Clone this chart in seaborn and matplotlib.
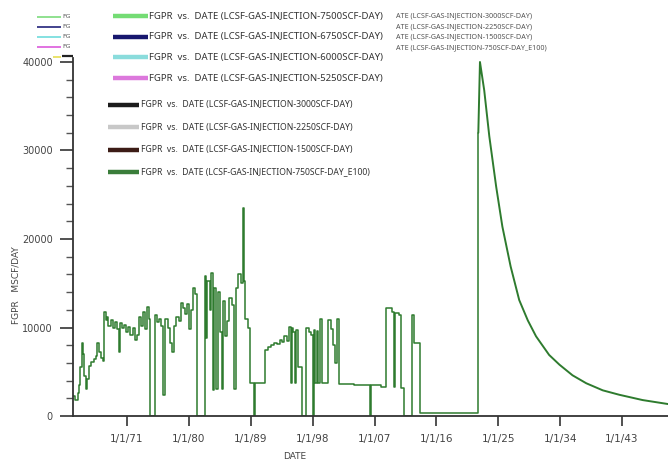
import matplotlib
matplotlib.use("Agg")
import matplotlib.pyplot as plt
from matplotlib.lines import Line2D
from matplotlib.ticker import MultipleLocator, FixedLocator
import seaborn as sns
import pandas as pd

# ---------------- data (decimal years, MSCF/DAY) ----------------
hist_years = [1963.2, 1963.5, 1963.8, 1964.0, 1964.2, 1964.4, 1964.6, 1964.8, 1965.0, 1965.2,
              1965.4, 1965.8, 1966.2, 1966.5, 1966.7, 1966.9, 1967.2, 1967.5, 1967.7, 1967.9,
              1968.1, 1968.3, 1968.6, 1968.9, 1969.2, 1969.5, 1969.8, 1970.0, 1970.3, 1970.6,
              1970.9, 1971.2, 1971.5, 1971.8, 1972.1, 1972.4, 1972.7, 1973.0, 1973.3, 1973.6,
              1973.9, 1974.2, 1974.4, 1975.0, 1975.3, 1975.6, 1976.0, 1976.3, 1976.5, 1976.9,
              1977.2, 1977.5, 1977.8, 1978.1, 1978.5, 1978.8, 1979.1, 1979.4, 1979.7, 1980.0,
              1980.3, 1980.6, 1980.9, 1981.2, 1982.3, 1982.5, 1982.7, 1983.0, 1983.2, 1983.5,
              1983.7, 1984.0, 1984.2, 1984.5, 1984.8, 1985.0, 1985.3, 1985.6, 1985.9, 1986.2,
              1986.5, 1986.8, 1987.2, 1987.6, 1987.8, 1987.95, 1988.2, 1988.6, 1988.9, 1989.4,
              1989.55, 1991.1, 1991.5, 1992.0, 1992.4, 1992.8, 1993.2, 1993.6, 1993.9, 1994.3,
              1994.6, 1994.8, 1994.95, 1995.2, 1995.4, 1995.6, 1995.9, 1996.4, 1997.1, 1997.4,
              1997.7, 1998.0, 1998.15, 1998.4, 1998.6, 1998.8, 1999.1, 1999.3, 2000.3, 2000.7,
              2001.0, 2001.3, 2001.6, 2001.8, 2004.0, 2006.3, 2006.4, 2006.55, 2008.0, 2008.6,
              2009.5, 2009.9, 2010.0, 2010.6, 2010.8, 2011.3, 2012.5, 2012.8, 2013.6, 2022.1]
hist_rates = [2300, 1800, 2600, 3500, 5500, 8300, 7000, 4500, 3000, 4200,
              5700, 6100, 6400, 6800, 8300, 7200, 6500, 6200, 11800, 10800,
              11200, 10200, 10800, 10000, 10600, 9800, 7200, 10500, 9900, 10300,
              9500, 10100, 9200, 10000, 8600, 9200, 11200, 10200, 11800, 9800,
              12300, 11000, 0, 11400, 10600, 11000, 10200, 2400, 11000, 10000,
              8200, 7200, 10200, 11200, 10700, 12800, 12200, 11500, 12600, 9800,
              12000, 14500, 13800, 0, 15800, 8800, 15200, 12000, 16200, 2900,
              14500, 3000, 14000, 9500, 3100, 13000, 9000, 10700, 13300, 12500,
              3000, 14500, 16000, 15000, 23500, 15200, 11000, 10000, 3700, 0,
              3700, 7500, 7800, 8000, 8300, 8100, 8600, 8400, 9000, 8500,
              10100, 3700, 10000, 9500, 3700, 9700, 5500, 0, 10000, 9500,
              9200, 0, 9700, 3700, 9600, 3700, 11000, 3700, 10800, 9800,
              8000, 6000, 11000, 3600, 3500, 3400, 0, 3500, 3300, 12200,
              11800, 3300, 11600, 11400, 3200, 0, 11400, 8300, 300, 32000]

fcst_years = [2022.1, 2022.34, 2022.96, 2023.7, 2024.7, 2025.6, 2026.8, 2028.05, 2029.3,
              2030.5, 2032.4, 2033.9, 2035.8, 2037.8, 2040.2, 2042.6, 2046.0, 2049.7]
fcst_rates = [32000, 40000, 36800, 31600, 25900, 21400, 16900, 13100, 10800,
              9000, 6900, 5800, 4600, 3700, 2900, 2400, 1800, 1350]

x_tick_years = [1971, 1980, 1989, 1998, 2007, 2016, 2025, 2034, 2043]
x_tick_labels = ["1/1/71", "1/1/80", "1/1/89", "1/1/98", "1/1/07", "1/1/16", "1/1/25", "1/1/34", "1/1/43"]
y_ticks = [0, 10000, 20000, 30000, 40000]

legend_a_labels = ["FGPR  vs.  DATE (LCSF-GAS-INJECTION-7500SCF-DAY)",
                   "FGPR  vs.  DATE (LCSF-GAS-INJECTION-6750SCF-DAY)",
                   "FGPR  vs.  DATE (LCSF-GAS-INJECTION-6000SCF-DAY)",
                   "FGPR  vs.  DATE (LCSF-GAS-INJECTION-5250SCF-DAY)"]
legend_a_colors = ["#74dc74", "#17176e", "#8adcdc", "#dc78dc"]
legend_b_labels = ["FGPR  vs.  DATE (LCSF-GAS-INJECTION-3000SCF-DAY)",
                   "FGPR  vs.  DATE (LCSF-GAS-INJECTION-2250SCF-DAY)",
                   "FGPR  vs.  DATE (LCSF-GAS-INJECTION-1500SCF-DAY)",
                   "FGPR  vs.  DATE (LCSF-GAS-INJECTION-750SCF-DAY_E100)"]
legend_b_colors = ["#1c1c1c", "#c8c8c8", "#3c1c16", "#3a7d3a"]
legend_c_labels = ["ATE (LCSF-GAS-INJECTION-3000SCF-DAY)",
                   "ATE (LCSF-GAS-INJECTION-2250SCF-DAY)",
                   "ATE (LCSF-GAS-INJECTION-1500SCF-DAY)",
                   "ATE (LCSF-GAS-INJECTION-750SCF-DAY_E100)"]
small_legend_labels = ["FG", "FG", "FG", "FG"]
small_legend_colors = ["#7ddc7d", "#22227a", "#70dcdc", "#dc5adc"]

line_color = "#2e7b2e"

# ---------------- figure ----------------
sns.set_style("white")
W, H = 668, 461
fig = plt.figure(figsize=(W / 100, H / 100), dpi=100)
narrow = ["Liberation Sans Narrow", "Noto Sans", "Liberation Sans", "DejaVu Sans"]

y0_px, y40_px = 416, 62
ppu = (y0_px - y40_px) / 40000.0
ymax = 40500
top_px = y0_px - ymax * ppu
ax = fig.add_axes([73 / W, 1 - y0_px / H, 1 - 73 / W, (y0_px - top_px) / H])

hist = pd.DataFrame({"DATE": hist_years, "FGPR": hist_rates})
fcst = pd.DataFrame({"DATE": fcst_years, "FGPR": fcst_rates})
sns.lineplot(data=hist, x="DATE", y="FGPR", ax=ax, color=line_color, lw=1.1,
             drawstyle="steps-post", estimator=None, sort=False)
sns.lineplot(data=fcst, x="DATE", y="FGPR", ax=ax, color=line_color, lw=1.4,
             estimator=None, sort=False)

x_left = 1971 - (127 - 73) / 6.875
x_right = 1971 + (668 - 127) / 6.875
ax.set_xlim(x_left, x_right)
ax.set_ylim(0, ymax)

ax.xaxis.set_major_locator(FixedLocator(x_tick_years))
ax.set_xticklabels(x_tick_labels)
ax.set_yticks(y_ticks)
ax.yaxis.set_minor_locator(MultipleLocator(2000))
ax.tick_params(axis="x", which="major", direction="out", length=7, width=1.2,
               color="#333333", labelsize=7.5, labelcolor="#444444", pad=6, bottom=True)
ax.tick_params(axis="y", which="major", direction="out", length=9.5, width=1.2,
               color="#333333", labelsize=7, labelcolor="#444444", pad=5, left=True)
ax.tick_params(axis="y", which="minor", direction="out", length=5, width=1.0,
               color="#555555", left=True)
for s in ["top", "right"]:
    ax.spines[s].set_visible(False)
for s in ["left", "bottom"]:
    ax.spines[s].set_color("#333333")
    ax.spines[s].set_linewidth(1.3)
ax.set_xlabel("")
ax.set_ylabel("")

fig.text(295 / W, 1 - 456 / H, "DATE", ha="center", va="center", fontsize=6.5, color="#444444")
fig.text(16 / W, 1 - 285 / H, "FGPR   MSCF/DAY", ha="center", va="center", rotation=90,
         fontsize=6.5, color="#444444")

renderer = fig.canvas.get_renderer()


def fit_text(x_px, y_px, s, width_px, color="#333333", stretch="extra-condensed"):
    t = fig.text(x_px / W, 1 - y_px / H, s, ha="left", va="center", fontsize=10,
                 color=color, family=narrow, fontstretch=stretch)
    w = t.get_window_extent(renderer).width
    t.set_fontsize(10 * width_px / w)
    return t


def hline(x0, x1, y, color, lw):
    fig.add_artist(Line2D([x0 / W, x1 / W], [1 - y / H, 1 - y / H], color=color, lw=lw,
                          solid_capstyle="butt"))


# legend block A
for i, (lab, col) in enumerate(zip(legend_a_labels, legend_a_colors)):
    y = 16.5 + i * 20.5
    hline(113, 148, y, col, 3.2)
    fit_text(149, y, lab, 234)

# legend block B
for i, (lab, col) in enumerate(zip(legend_b_labels, legend_b_colors)):
    y = 105 + i * 22.3
    hline(108, 139, y, col, 3.2)
    fit_text(141, y, lab, 212 if i < 3 else 229)

# truncated legend C (top right)
for i, lab in enumerate(legend_c_labels):
    y = 16 + i * 10.6
    fit_text(396, y, lab, 136 if i < 3 else 151, color="#555555", stretch="condensed")

# tiny legend (top left)
for i, (lab, col) in enumerate(zip(small_legend_labels, small_legend_colors)):
    y = 17 + i * 10
    hline(37, 61, y, col, 1.2)
    fig.text(62 / W, 1 - y / H, lab, ha="left", va="center", fontsize=4.5, color="#555555")
hline(53, 61, 57.5, "#e8e060", 1.3)
hline(62, 73, 56.5, "#222222", 1.6)

fig.savefig("out.png", dpi=100)
